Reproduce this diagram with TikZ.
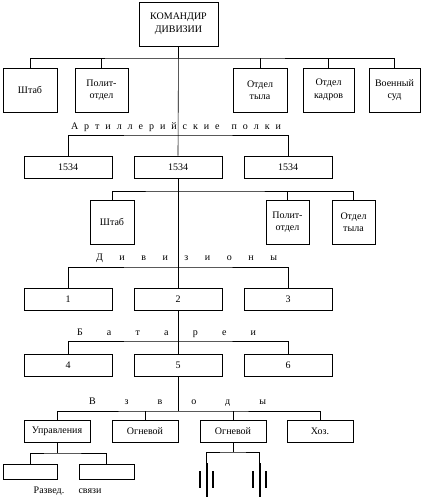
\documentclass[tikz,border=0pt]{standalone}
\usepackage{fontspec}
\setmainfont{Liberation Serif}
\begin{document}
\begin{tikzpicture}[x=1pt,y=-1pt,
  box/.style={draw, line width=0.6pt, inner sep=0pt, align=center, font=\fontsize{10}{12.5}\selectfont},
  ln/.style={line width=0.6pt},
  thick bar/.style={line width=2pt},
  lbl/.style={inner sep=0pt, font=\fontsize{10}{12}\selectfont}]
\useasboundingbox[fill=white] (0,0) rectangle (423,500);
% commander
\node[box, minimum width=79pt, minimum height=44pt] (cmd) at (178.5,24) {КОМАНДИР\\ДИВИЗИИ};
% row 1
\node[box, minimum width=54pt, minimum height=44pt] (shtab1) at (30,90) {Штаб};
\node[box, minimum width=53pt, minimum height=44pt] (polit1) at (101.5,90) {Полит-\\отдел};
\node[box, minimum width=54pt, minimum height=44pt] (tyl1) at (260,90) {Отдел\\тыла};
\node[box, minimum width=51pt, minimum height=44pt] (kadr1) at (328.5,90) {Отдел\\кадров};
\node[box, minimum width=51pt, minimum height=44pt] (sud1) at (394.5,90) {Военный\\суд};
\coordinate (j1) at (178,58);
\draw[ln] (shtab1.north) |- (j1) -| (sud1.north);
\draw[ln] (polit1.north) -- (polit1.north |- j1);
\draw[ln] (tyl1.north) -- (tyl1.north |- j1);
\draw[ln] (kadr1.north) -- (kadr1.north |- j1);
% regiments
\node[lbl] (arttxt) at (176,127) {\makebox[210pt][s]{А\hfill р\hfill т\hfill и\hfill л\hfill л\hfill е\hfill р\hfill и\hfill й\hfill с\hfill к\hfill и\hfill е\hfill\hfill п\hfill о\hfill л\hfill к\hfill и}};
\node[box, minimum width=88pt, minimum height=22pt] (reg1) at (68,167) {1534};
\node[box, minimum width=88pt, minimum height=22pt] (reg2) at (178,167) {1534};
\node[box, minimum width=88pt, minimum height=22pt] (reg3) at (288,167) {1534};
\draw[ln] (cmd.south) -- (reg2.north);
\coordinate (j2) at (178,135);
\draw[ln] (reg1.north) |- (j2) -| (reg3.north);
% regiment staff
\node[box, minimum width=44pt, minimum height=44pt] (shtab2) at (112,222) {Штаб};
\node[box, minimum width=43pt, minimum height=44pt] (polit2) at (287.5,222) {Полит-\\отдел};
\node[box, minimum width=43pt, minimum height=44pt] (tyl2) at (353.5,222) {Отдел\\тыла};
\coordinate (j3) at (178,191);
\draw[ln] (shtab2.north) |- (j3) -| (tyl2.north);
\draw[ln] (polit2.north) -- (polit2.north |- j3);
% divisions
\node[lbl] (divtxt) at (186.5,258) {\makebox[181pt][s]{Д\hfill и\hfill в\hfill и\hfill з\hfill и\hfill о\hfill н\hfill ы}};
\node[box, minimum width=88pt, minimum height=22pt] (div1) at (68,299) {1};
\node[box, minimum width=88pt, minimum height=22pt] (div2) at (178,299) {2};
\node[box, minimum width=88pt, minimum height=22pt] (div3) at (288,299) {3};
\draw[ln] (reg2.south) -- (div2.north);
\coordinate (j4) at (178,267);
\draw[ln] (div1.north) |- (j4) -| (div3.north);
% batteries
\node[lbl] (battxt) at (166.5,333) {\makebox[179pt][s]{Б\hfill а\hfill т\hfill а\hfill р\hfill е\hfill и}};
\node[box, minimum width=88pt, minimum height=22pt] (bat4) at (68,365) {4};
\node[box, minimum width=88pt, minimum height=22pt] (bat5) at (178,365) {5};
\node[box, minimum width=88pt, minimum height=22pt] (bat6) at (288,365) {6};
\draw[ln] (div2.south) -- (bat5.north);
\coordinate (j5) at (178,341);
\draw[ln] (bat4.north) |- (j5) -| (bat6.north);
% platoons
\node[lbl] (plttxt) at (177.5,402) {\makebox[177pt][s]{В\hfill з\hfill в\hfill о\hfill д\hfill ы}};
\node[box, minimum width=66pt, minimum height=22pt] (upr) at (57,431) {Управления};
\node[box, minimum width=66pt, minimum height=22pt] (og1) at (145,431) {Огневой};
\node[box, minimum width=66pt, minimum height=22pt] (og2) at (233,431) {Огневой};
\node[box, minimum width=66pt, minimum height=22pt] (hoz) at (320,431) {Хоз.};
\coordinate (j6) at (178,411);
\draw[ln] (bat5.south) -- (j6);
\draw[ln] (upr.north) |- (j6) -| (hoz.north);
\draw[ln] (og1.north) -- (og1.north |- j6);
\draw[ln] (og2.north) -- (og2.north |- j6);
% control platoon sections
\node[box, minimum width=54pt, minimum height=15pt] (razv) at (30,471.5) {};
\node[box, minimum width=55pt, minimum height=15pt] (svz) at (106.5,471.5) {};
\node[lbl] (razvtxt) at (49,491) {Развед.};
\node[lbl] (svztxt) at (90,491) {связи};
\coordinate (j7) at (57,453);
\draw[ln] (upr.south) -- (j7);
\draw[ln] (razv.north) |- (j7) -| (svz.north);
% guns
\coordinate (j8) at (233,452);
\coordinate (ga) at (206.5,463);
\coordinate (gb) at (259.5,463);
\coordinate (gae) at (206.5,497);
\coordinate (gbe) at (259.5,497);
\draw[ln] (og2.south) -- (j8);
\draw[ln] (ga) |- (j8) -| (gb);
\draw[thick bar] (ga) -- (gae);
\draw[thick bar] (gb) -- (gbe);
\draw[thick bar] (200,471) -- (200,488);
\draw[thick bar] (213,471) -- (213,488);
\draw[thick bar] (253,471) -- (253,488);
\draw[thick bar] (266,471) -- (266,488);
\end{tikzpicture}
\end{document}
